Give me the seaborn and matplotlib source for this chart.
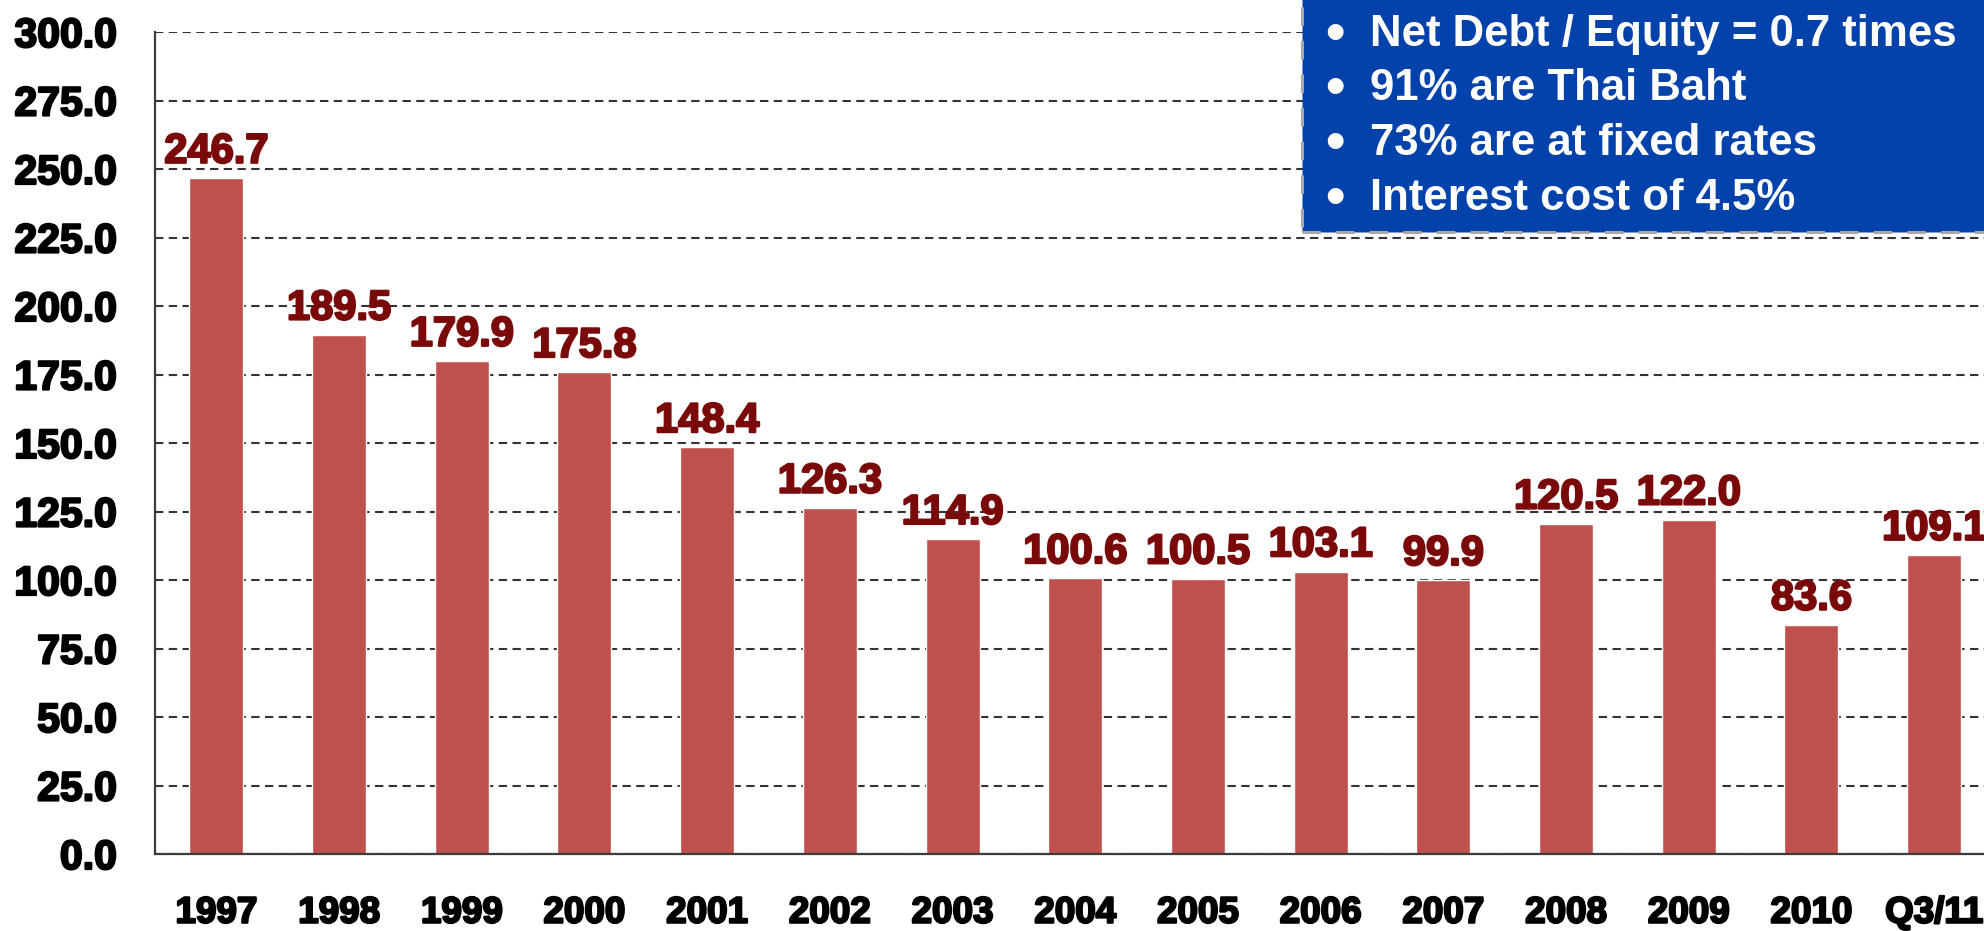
import matplotlib
matplotlib.use("Agg")
import matplotlib.pyplot as plt
import matplotlib.patheffects as pe
from matplotlib.patches import Rectangle
from matplotlib.ticker import FixedLocator, FormatStrFormatter, MultipleLocator
import seaborn as sns

# Net debt by year (THB bn)
categories = ["1997", "1998", "1999", "2000", "2001", "2002", "2003", "2004",
              "2005", "2006", "2007", "2008", "2009", "2010", "Q3/11"]
values = [246.7, 189.5, 179.9, 175.8, 148.4, 126.3, 114.9, 100.6,
          100.5, 103.1, 99.9, 120.5, 122.0, 83.6, 109.1]
highlights = [
    "Net Debt / Equity = 0.7 times",
    "91% are Thai Baht",
    "73% are at fixed rates",
    "Interest cost of 4.5%",
]

BAR = "#C0504D"
LABEL = "#7A0A0A"
BOX = "#0341AB"

sns.set_theme(style="white")
plt.rcParams["font.family"] = ["Liberation Sans", "DejaVu Sans"]


def heavy(color):
    return [pe.withStroke(linewidth=1.6, foreground=color)]


W, H = 1984, 931
fig = plt.figure(figsize=(W / 100, H / 100), dpi=100)
fig.patch.set_facecolor("white")
ax = fig.add_axes([155 / W, 77 / H, (W - 155) / W, (854 - 32) / H])
ax.set_facecolor("white")

sns.barplot(x=categories, y=values, color=BAR, saturation=1, width=0.44,
            ax=ax, zorder=3)

ax.set_ylim(0, 300)
ax.set_xlim(-0.5, 14.406)
ax.set_xlabel("")
ax.set_ylabel("")

# dashed horizontal grid
ax.yaxis.set_major_locator(MultipleLocator(25))
ax.yaxis.set_major_formatter(FormatStrFormatter("%.1f"))
ax.yaxis.grid(True, color="#333333", linewidth=1.5, linestyle=(0, (4, 2.6)))
ax.xaxis.grid(False)
ax.set_axisbelow(True)

for side in ("top", "right"):
    ax.spines[side].set_visible(False)
for side in ("left", "bottom"):
    ax.spines[side].set_color("#3C3C3C")
    ax.spines[side].set_linewidth(1.6)
    ax.spines[side].set_zorder(4)

ax.tick_params(axis="y", which="major", direction="inout", length=17,
               width=1.6, color="#3C3C3C", pad=19, labelsize=29.5,
               labelcolor="black")
for lab in ax.get_yticklabels():
    lab.set_fontweight("bold")
    lab.set_path_effects(heavy("black"))

# category separators on the x axis
ax.xaxis.set_minor_locator(FixedLocator([i - 0.5 for i in range(len(categories))]))
ax.tick_params(axis="x", which="minor", direction="inout", length=18,
               width=1.6, color="#3C3C3C")
ax.tick_params(axis="x", which="major", length=0, pad=30)
ax.set_xticks(range(len(categories)))
ax.set_xticklabels(categories, fontweight="bold", color="black", fontsize=26.5)
for lab in ax.get_xticklabels():
    lab.set_path_effects(heavy("black"))

# value labels above bars
for i, v in enumerate(values):
    ax.annotate(f"{v:.1f}", xy=(i, v), xytext=(0, 11), textcoords="offset points",
                ha="center", va="baseline", fontsize=30, fontweight="bold",
                color=LABEL, zorder=5, annotation_clip=False,
                path_effects=heavy(LABEL))

# highlights box
box = Rectangle((1302 / W, (H - 232) / H), 0.5, 0.5, transform=fig.transFigure,
                facecolor=BOX, edgecolor="#A8A8A8", linewidth=2.2,
                linestyle=(0, (6, 5)), zorder=10, clip_on=False)
fig.add_artist(box)

baselines = [46, 100, 155, 210]
for text, yb in zip(highlights, baselines):
    fig.text(1335 / W, 1 - (yb + 4) / H, "\u2022", ha="center", va="baseline",
             color="white", fontsize=40, fontweight="bold", zorder=11)
    fig.text(1370 / W, 1 - yb / H, text, ha="left", va="baseline",
             color="white", fontsize=31.5, fontweight="bold", zorder=11)

fig.savefig("out.png", dpi=100)
